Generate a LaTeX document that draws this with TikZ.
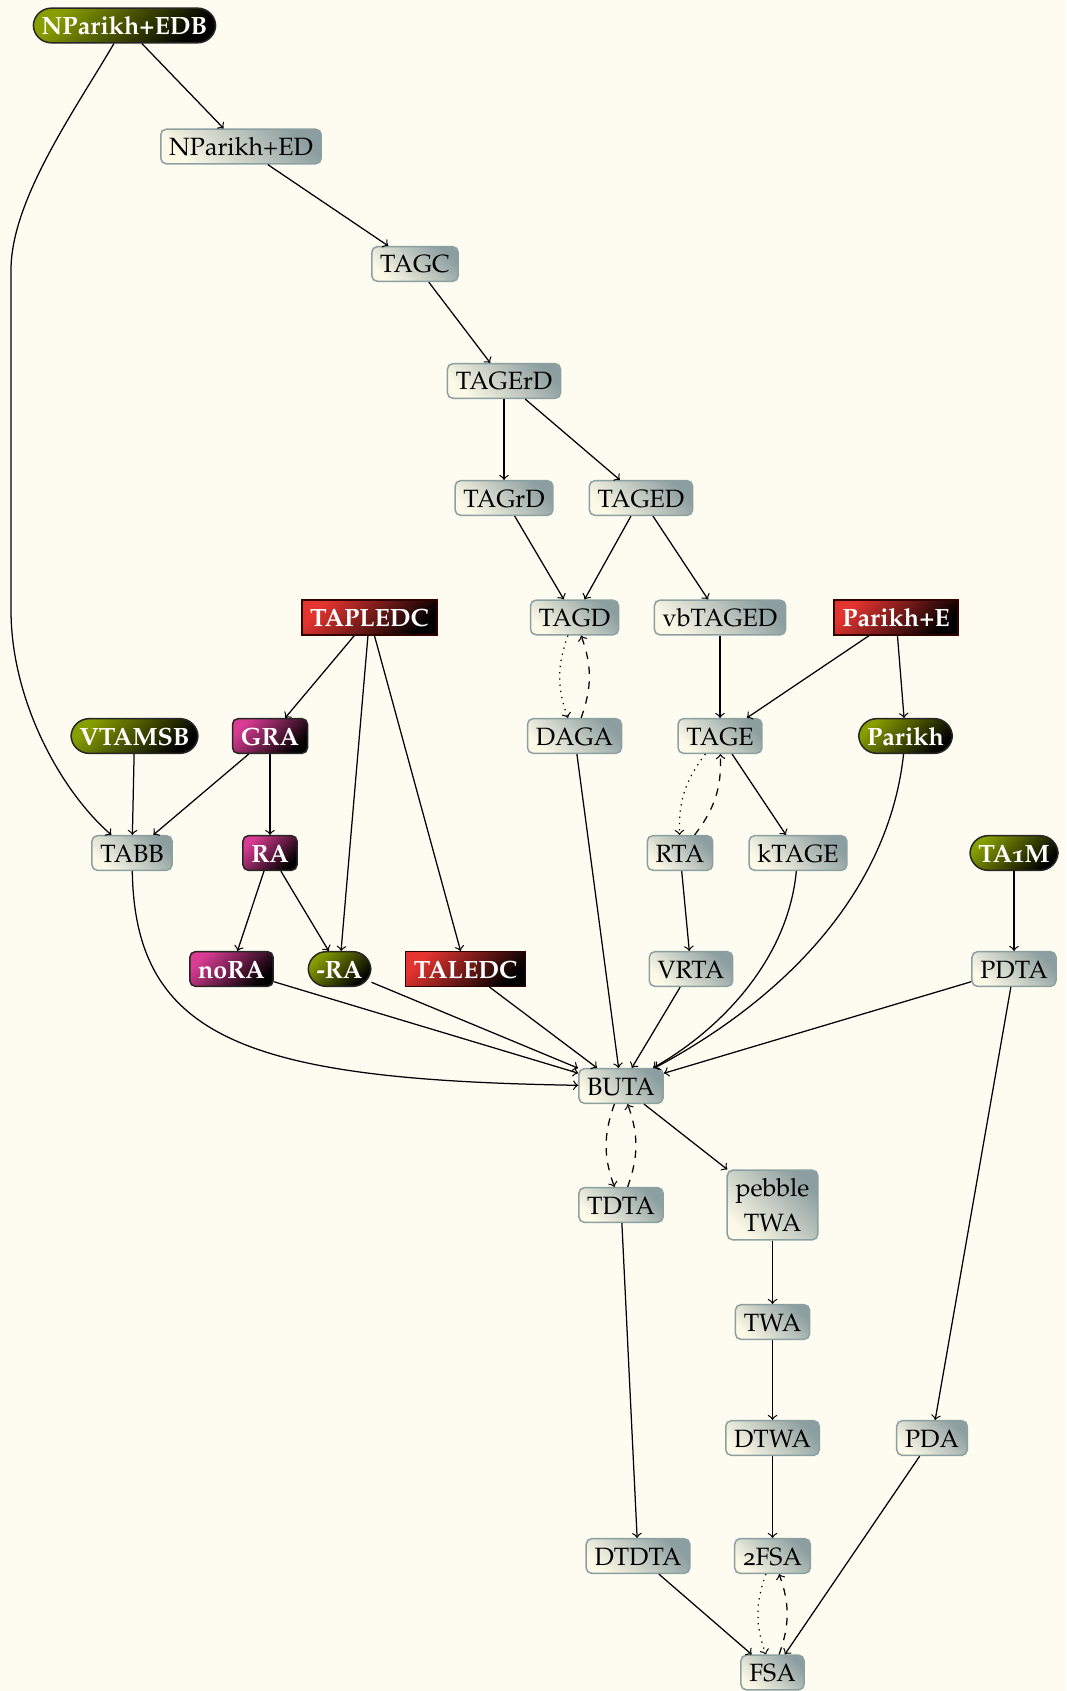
\documentclass[tikz,border=0pt]{standalone}
\usepackage[T1]{fontenc}
\usepackage[osf]{mathpazo}
\definecolor{bg}{RGB}{254,252,240}
\definecolor{gborder}{RGB}{140,160,160}
\definecolor{gdark}{RGB}{140,158,160}
\definecolor{glight}{RGB}{252,249,230}
\definecolor{olivec}{RGB}{135,158,0}
\definecolor{redc}{RGB}{228,52,48}
\definecolor{magc}{RGB}{218,60,148}
\tikzset{
  base/.style={rectangle, inner sep=3.333pt, text height=7.2pt, text depth=0pt, line width=0.6pt},
  gbox/.style={base, rounded corners=2.2pt, draw=gborder, top color=gdark, bottom color=glight, shading angle=-45, text=black},
  greenbox/.style={base, rounded corners=7.2pt, draw=black!85, top color=olivec, bottom color=black, shading angle=45, text=white, font=\bfseries},
  redbox/.style={base, draw=black!80!red, top color=redc, bottom color=black, shading angle=45, text=white, font=\bfseries},
  magbox/.style={base, rounded corners=2.2pt, draw=black!85, top color=magc, bottom color=black, shading angle=45, text=white, font=\bfseries},
  arr/.style={->, line width=0.5pt, black}
}
\begin{document}
\begin{tikzpicture}[x=0.4pt,y=-0.4pt]
\fill[bg] (0,0) rectangle (1066,1691);
\useasboundingbox (0,0) rectangle (1066,1691);
% nodes
\node[greenbox] (EDB) at (124.5,25.5) {NParikh+EDB};
\node[gbox] (ED) at (241,146.5) {NParikh+ED};
\node[gbox] (TAGC) at (415,264) {TAGC};
\node[gbox] (TAGErD) at (504,381) {TAGErD};
\node[gbox] (TAGrD) at (504,498) {TAGrD};
\node[gbox] (TAGED) at (641,498) {TAGED};
\node[redbox] (TAPLEDC) at (369.5,617.5) {TAPLEDC};
\node[gbox] (TAGD) at (574.5,617.5) {TAGD};
\node[gbox] (vbTAGED) at (720,617.5) {vbTAGED};
\node[redbox] (ParikhE) at (896,617.5) {Parikh+E};
\node[greenbox] (VTAMSB) at (134.5,736) {VTAMSB};
\node[magbox] (GRA) at (270,736) {GRA};
\node[gbox] (DAGA) at (574.5,736) {DAGA};
\node[gbox] (TAGE) at (720,736) {TAGE};
\node[greenbox] (Parikh) at (905.5,736) {Parikh};
\node[gbox] (TABB) at (132,853) {TABB};
\node[magbox] (RA) at (270,853) {RA};
\node[gbox] (RTA) at (680,853) {RTA};
\node[gbox] (kTAGE) at (798,853) {kTAGE};
\node[greenbox] (TAoneM) at (1014,853) {TA1M};
\node[magbox] (noRA) at (231.5,969) {noRA};
\node[greenbox] (negRA) at (339.5,969) {-RA};
\node[redbox] (TALEDC) at (465.5,969) {TALEDC};
\node[gbox] (VRTA) at (691,969) {VRTA};
\node[gbox] (PDTA) at (1014,969) {PDTA};
\node[gbox] (BUTA) at (621,1086) {BUTA};
\node[gbox] (TDTA) at (621,1205) {TDTA};
\node[gbox, align=center, text height=21.2pt, text depth=0pt] (pebble) at (772.5,1205) {pebble\\[2pt]TWA};
\node[gbox] (TWA) at (772.5,1322) {TWA};
\node[gbox] (DTWA) at (772.5,1438) {DTWA};
\node[gbox] (PDA) at (932,1438) {PDA};
\node[gbox] (DTDTA) at (638,1556) {DTDTA};
\node[gbox] (twoFSA) at (772.5,1556) {2FSA};
\node[gbox] (FSA) at (772.5,1672.5) {FSA};
% edges
\draw[arr] (EDB) -- (ED);
\draw[arr] (EDB) .. controls (75,110) and (11,200) .. (11,270) -- (11,610) .. controls (11,700) and (60,790) .. (TABB);
\draw[arr] (ED) -- (TAGC);
\draw[arr] (TAGC) -- (TAGErD);
\draw[arr] (TAGErD) -- (TAGrD);
\draw[arr] (TAGErD) -- (TAGED);
\draw[arr] (TAGrD) -- (TAGD);
\draw[arr] (TAGED) -- (TAGD);
\draw[arr] (TAGED) -- (vbTAGED);
\draw[arr, dotted] (TAGD) to[bend right=20] (DAGA);
\draw[arr, dashed] (DAGA) to[bend right=20] (TAGD);
\draw[arr] (vbTAGED) -- (TAGE);
\draw[arr] (ParikhE) -- (TAGE);
\draw[arr] (ParikhE) -- (Parikh);
\draw[arr] (TAPLEDC) -- (GRA);
\draw[arr] (TAPLEDC) -- (negRA);
\draw[arr] (TAPLEDC) -- (TALEDC);
\draw[arr] (VTAMSB) -- (TABB);
\draw[arr] (GRA) -- (TABB);
\draw[arr] (GRA) -- (RA);
\draw[arr] (RA) -- (noRA);
\draw[arr] (RA) -- (negRA);
\draw[arr, dotted] (TAGE) to[bend right=20] (RTA);
\draw[arr, dashed] (RTA) to[bend right=20] (TAGE);
\draw[arr] (TAGE) -- (kTAGE);
\draw[arr] (RTA) -- (VRTA);
\draw[arr] (TAoneM) -- (PDTA);
\draw[arr] (TABB) .. controls (135,1040) and (250,1080) .. (BUTA);
\draw[arr] (noRA) -- (BUTA);
\draw[arr] (negRA) -- (BUTA);
\draw[arr] (TALEDC) -- (BUTA);
\draw[arr] (DAGA) -- (BUTA);
\draw[arr] (VRTA) -- (BUTA);
\draw[arr] (kTAGE) .. controls (788,960) and (720,1030) .. (BUTA);
\draw[arr] (Parikh) .. controls (890,880) and (800,990) .. (BUTA);
\draw[arr] (PDTA) -- (BUTA);
\draw[arr, dashed] (BUTA) to[bend right=20] (TDTA);
\draw[arr, dashed] (TDTA) to[bend right=20] (BUTA);
\draw[arr] (BUTA) -- (pebble);
\draw[arr] (pebble) -- (TWA);
\draw[arr] (TWA) -- (DTWA);
\draw[arr] (DTWA) -- (twoFSA);
\draw[arr] (TDTA) -- (DTDTA);
\draw[arr] (PDTA) -- (PDA);
\draw[arr] (DTDTA) -- (FSA);
\draw[arr] (PDA) -- (FSA);
\draw[arr, dotted] (twoFSA) to[bend right=20] (FSA);
\draw[arr, dashed] (FSA) to[bend right=20] (twoFSA);
\end{tikzpicture}
\end{document}
